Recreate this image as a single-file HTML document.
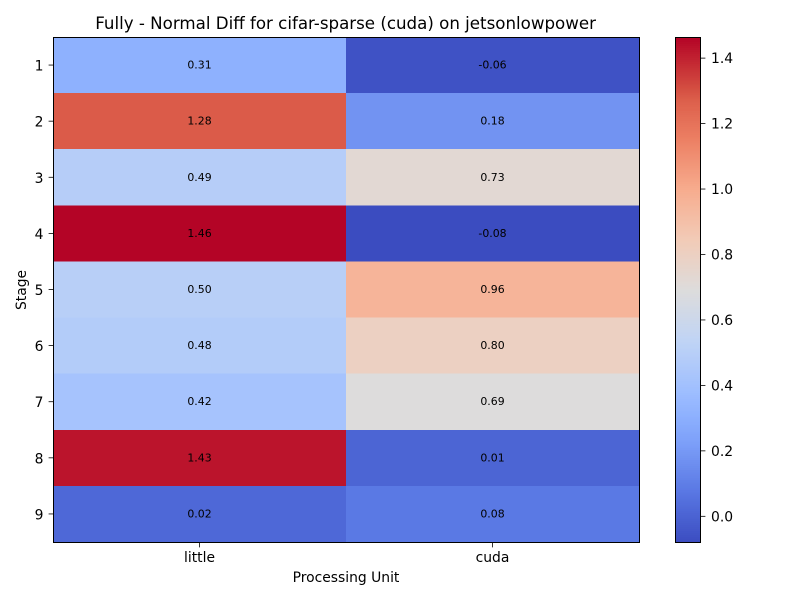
<!DOCTYPE html>
<html>
<head>
<meta charset="utf-8">
<title>Fully - Normal Diff</title>
<style>
html,body{margin:0;padding:0;background:#fff;}
svg{display:block;}
text{font-family:"DejaVu Sans",sans-serif;fill:#000;}
</style>
</head>
<body>
<svg id="chart" xmlns="http://www.w3.org/2000/svg" width="800" height="600" viewBox="0 0 800 600">
<rect x="0" y="0" width="800" height="600" fill="#ffffff"/>
<text x="345.6" y="29" font-size="16.67" text-anchor="middle">Fully - Normal Diff for cifar-sparse (cuda) on jetsonlowpower</text>
<text x="346" y="582" font-size="13.89" text-anchor="middle">Processing Unit</text>
<text x="0" y="0" font-size="13.89" text-anchor="middle" transform="translate(26,290) rotate(-90)">Stage</text>
<g id="cells"></g>
<g id="labels"></g>
<g id="xticks"></g>
<g id="yticks"></g>
<rect x="53.5" y="37.5" width="586" height="505" fill="none" stroke="#000" stroke-width="1"/>
<g id="cbar"></g>
<g id="cticks"></g>
<rect x="675.5" y="37.5" width="25" height="505" fill="none" stroke="#000" stroke-width="1"/>
</svg>
<script>
const units = ["little", "cuda"];
const stages = ["1", "2", "3", "4", "5", "6", "7", "8", "9"];
const littleValues = [0.31, 1.28, 0.49, 1.463, 0.50, 0.48, 0.42, 1.43, 0.02];
const cudaValues = [-0.06, 0.18, 0.73, -0.08, 0.96, 0.80, 0.69, 0.01, 0.08];
const colorbarTicks = [0.0, 0.2, 0.4, 0.6, 0.8, 1.0, 1.2, 1.4];

const NS = "http://www.w3.org/2000/svg";
const series = [littleValues, cudaValues];
const allValues = littleValues.concat(cudaValues);
const vMin = Math.min.apply(null, allValues);
const vMax = Math.max.apply(null, allValues);

const plot = {left: 53, right: 639, top: 37, bottom: 542};
const bar = {left: 675.5, right: 700.5, top: 37.5, bottom: 542.5};

const ramp = [
  [0, 59, 76, 192], [0.1, 89, 119, 227], [0.2, 125, 160, 249], [0.25, 141, 176, 254],
  [0.3, 158, 190, 255], [0.4, 192, 212, 245], [0.5, 221, 220, 220], [0.6, 242, 203, 183],
  [0.7, 247, 172, 142], [0.8, 236, 127, 99], [0.875, 221, 96, 76], [0.9, 212, 78, 65], [1, 180, 4, 38]
];
function colormap(t) {
  t = Math.max(0, Math.min(1, t));
  for (let i = 1; i < ramp.length; i++) {
    if (t <= ramp[i][0]) {
      const a = ramp[i - 1], b = ramp[i];
      const f = (t - a[0]) / (b[0] - a[0]);
      return "rgb(" + [1, 2, 3].map(function (k) { return Math.round(a[k] + (b[k] - a[k]) * f); }).join(",") + ")";
    }
  }
  return "rgb(180,4,38)";
}
function norm(v) { return (v - vMin) / (vMax - vMin); }
function xBand(i) { return plot.left + (plot.right - plot.left) * i / units.length; }
function yBand(j) { return plot.top + (plot.bottom - plot.top) * j / stages.length; }
function cbarY(v) { return bar.bottom - norm(v) * (bar.bottom - bar.top); }
function make(tag, attrs) {
  const el = document.createElementNS(NS, tag);
  for (const k in attrs) { el.setAttribute(k, attrs[k]); }
  return el;
}

const cellsG = document.getElementById("cells");
const labelsG = document.getElementById("labels");
const xG = document.getElementById("xticks");
const yG = document.getElementById("yticks");
const barG = document.getElementById("cbar");
const cTickG = document.getElementById("cticks");

series.forEach(function (vals, i) {
  vals.forEach(function (v, j) {
    const x0 = xBand(i), x1 = xBand(i + 1), y0 = yBand(j), y1 = yBand(j + 1);
    const r = make("rect", {x: x0, y: y0, width: x1 - x0, height: y1 - y0, fill: colormap(norm(v)), "shape-rendering": "crispEdges"});
    
    
    cellsG.appendChild(r);
    const t = make("text", {x: (x0 + x1) / 2, y: (y0 + y1) / 2 + 3.5, "font-size": "10.9", "text-anchor": "middle"});
    
    
    t.textContent = v.toFixed(2);
    labelsG.appendChild(t);
  });
});

units.forEach(function (u, i) {
  const x = (xBand(i) + xBand(i + 1)) / 2;
  const tick = make("line", {x1: x, x2: x, y1: plot.bottom + 0.5, y2: plot.bottom + 5.4, stroke: "#000", "stroke-width": 0.8});
  
  
  xG.appendChild(tick);
  const t = make("text", {x: x, y: 562, "font-size": "13.89", "text-anchor": "middle"});
  
  
  t.textContent = u;
  xG.appendChild(t);
});

stages.forEach(function (s, j) {
  const y = (yBand(j) + yBand(j + 1)) / 2;
  const tick = make("line", {x1: plot.left - 4.4, x2: plot.left + 0.5, y1: y, y2: y, stroke: "#000", "stroke-width": 0.8});
  
  
  yG.appendChild(tick);
  const t = make("text", {x: plot.left - 9.5, y: y + 5.5, "font-size": "13.89", "text-anchor": "end"});
  
  
  t.textContent = s;
  yG.appendChild(t);
});

const barSteps = 256;
for (let i = 0; i < barSteps; i++) {
  const h = (bar.bottom - bar.top) / barSteps;
  const r = make("rect", {x: bar.left, width: bar.right - bar.left, y: bar.bottom - (i + 1) * h, height: h + 0.5, fill: colormap((i + 0.5) / barSteps)});
  
  
  barG.appendChild(r);
}

colorbarTicks.forEach(function (v) {
  const y = cbarY(v);
  const tick = make("line", {x1: bar.right, x2: bar.right + 4.9, y1: y, y2: y, stroke: "#000", "stroke-width": 0.8});
  
  
  cTickG.appendChild(tick);
  const t = make("text", {x: bar.right + 10.5, y: y + 5, "font-size": "13.89"});
  
  
  t.textContent = v.toFixed(1);
  cTickG.appendChild(t);
});
</script>
</body>
</html>
